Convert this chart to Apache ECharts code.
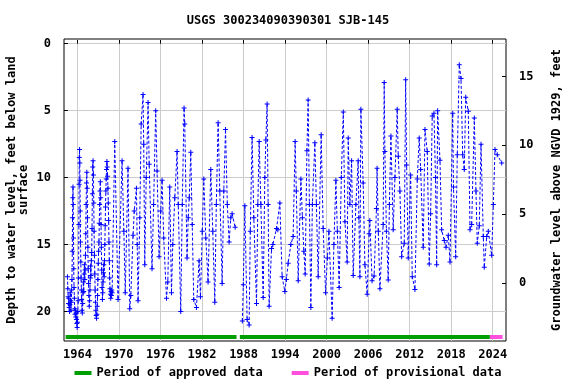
<!DOCTYPE html>
<html><head><meta charset="utf-8">
<script src="https://cdn.jsdelivr.net/npm/echarts@6/dist/echarts.min.js"></script>
<style>html,body{margin:0;padding:0;background:#fff}#c{width:576px;height:384px}</style>
</head><body><div id="c"></div>
<script>
const chartTitle = 'USGS 300234090390301 SJB-145';
const xTicks = [1964, 1970, 1976, 1982, 1988, 1994, 2000, 2006, 2012, 2018, 2024];
const depthTicks = [0, 5, 10, 15, 20];
const elevTicks = [0, 5, 10, 15];
const approvedPeriods = [[1962.29, 1986.98], [1987.46, 2023.59]];
const provisionalPeriods = [[2023.59, 2025.43]];
const periodBarDepth = 21.9;

// [decimal year, depth to water (ft below land surface)]
const waterLevels = [
[1962.55,17.4],[1962.6,18.3],[1962.65,18.9],[1962.7,19.4],[1962.75,19.0],[1962.8,19.7],[1962.85,20.0],[1962.9,19.5],[1962.95,18.6],
[1963.0,19.2],[1963.05,19.9],[1963.1,19.3],[1963.15,18.4],[1963.2,17.6],[1963.25,15.5],[1963.28,13.0],[1963.32,11.5],[1963.35,10.7],
[1963.38,12.0],[1963.42,14.5],[1963.46,16.8],[1963.5,18.2],[1963.55,19.0],[1963.6,19.8],[1963.65,20.2],[1963.7,19.9],[1963.75,20.4],
[1963.8,20.1],[1963.85,20.6],[1963.9,20.9],[1963.95,21.2],[1964.0,20.8],[1964.05,20.0],[1964.1,19.2],[1964.15,17.5],[1964.2,13.5],
[1964.23,10.5],[1964.26,8.5],[1964.3,7.9],[1964.33,8.9],[1964.36,10.2],[1964.4,12.5],[1964.44,14.8],[1964.48,16.3],[1964.52,17.5],
[1964.56,18.4],[1964.6,19.1],[1964.65,19.9],[1964.7,20.1],[1964.75,19.4],[1964.8,18.6],[1964.85,17.8],[1964.9,18.5],[1964.95,17.2],
[1965.0,16.5],[1965.05,17.6],[1965.1,16.9],[1965.15,15.8],[1965.2,14.2],[1965.25,12.0],[1965.3,10.4],[1965.35,9.6],[1965.4,10.8],
[1965.45,13.0],[1965.5,15.2],[1965.55,16.8],[1965.6,17.9],[1965.65,18.8],[1965.7,19.6],[1965.75,19.2],[1965.8,18.4],[1965.85,17.5],
[1965.9,16.6],[1965.95,17.3],[1966.0,16.2],[1966.05,15.6],[1966.1,13.8],[1966.15,11.2],[1966.2,9.2],[1966.25,8.75],[1966.3,9.8],
[1966.35,11.9],[1966.4,14.0],[1966.45,15.8],[1966.5,17.2],[1966.55,18.4],[1966.6,19.3],[1966.65,19.9],[1966.7,20.3],[1966.75,20.5],
[1966.8,20.2],[1966.85,19.6],[1966.9,18.8],[1966.95,17.6],[1967.0,16.4],[1967.05,15.5],[1967.1,14.8],[1967.15,13.4],[1967.2,12.0],
[1967.25,11.0],[1967.3,10.3],[1967.35,11.5],[1967.4,13.5],[1967.45,15.2],[1967.5,16.9],[1967.55,18.2],[1967.6,19.1],[1967.65,18.6],
[1967.7,17.8],[1967.75,17.1],[1967.8,16.5],[1967.85,17.4],[1967.9,16.2],[1967.95,15.0],[1968.0,13.6],[1968.05,12.2],[1968.1,11.0],
[1968.15,10.1],[1968.2,9.4],[1968.25,8.8],[1968.3,9.2],[1968.35,9.9],[1968.4,10.8],[1968.45,11.9],[1968.5,13.2],[1968.55,14.8],
[1968.6,16.2],[1968.65,17.5],[1968.7,18.3],[1968.75,18.7],[1968.8,19.0],[1968.85,18.5],[1968.9,18.8],[1968.95,18.4],[1969.0,18.6],
[1969.38,7.3],[1969.86,19.1],[1970.44,8.75],[1970.7,14.0],[1970.9,18.6],[1971.3,9.3],[1971.55,19.8],[1971.7,18.8],[1972.03,14.3],
[1972.2,12.5],[1972.52,10.8],[1972.63,15.0],[1972.75,19.2],[1973.0,13.0],[1973.2,6.0],[1973.47,3.8],[1973.57,7.5],[1973.72,16.5],
[1973.93,10.0],[1974.2,4.4],[1974.36,9.0],[1974.77,16.8],[1975.0,12.0],[1975.3,5.0],[1975.5,9.5],[1975.79,15.9],[1976.03,12.5],
[1976.22,10.2],[1976.46,14.5],[1976.86,19.0],[1977.05,17.8],[1977.33,10.7],[1977.58,18.6],[1977.77,15.0],[1978.06,11.5],[1978.39,8.05],
[1978.56,12.0],[1978.92,20.0],[1979.14,12.0],[1979.4,4.8],[1979.5,6.0],[1979.83,16.0],[1980.0,13.0],[1980.15,11.5],[1980.37,8.1],
[1980.58,13.5],[1980.8,19.1],[1981.19,19.7],[1981.57,16.2],[1981.77,18.9],[1982.03,14.0],[1982.25,10.1],[1982.54,14.5],[1982.87,17.8],
[1983.26,9.4],[1983.55,14.0],[1983.84,19.3],[1984.06,12.0],[1984.32,5.9],[1984.56,11.0],[1984.9,17.9],[1985.14,11.0],[1985.39,6.4],
[1985.65,12.0],[1985.91,14.8],[1986.15,13.0],[1986.34,12.7],[1986.78,13.7],
[1987.3,null],
[1987.82,20.7],[1987.96,18.0],[1988.18,12.1],[1988.51,20.6],[1988.8,21.0],[1988.97,14.0],[1989.23,7.0],[1989.48,13.0],[1989.87,19.4],
[1990.06,12.0],[1990.25,7.3],[1990.5,12.0],[1990.83,18.95],[1991.07,10.0],[1991.22,7.2],[1991.4,4.5],[1991.55,12.0],[1991.69,19.6],
[1992.04,15.3],[1992.23,15.0],[1992.76,13.8],[1992.95,13.9],[1993.24,11.9],[1993.57,17.4],[1993.96,18.5],[1994.18,17.6],[1994.44,16.4],
[1994.83,15.0],[1995.16,14.4],[1995.45,7.3],[1995.62,11.0],[1995.89,17.7],[1996.28,10.1],[1996.5,13.0],[1996.71,15.5],[1996.9,17.2],
[1997.15,8.0],[1997.33,4.2],[1997.51,12.0],[1997.72,19.7],[1997.94,12.0],[1998.3,7.4],[1998.52,12.0],[1998.78,17.4],[1999.21,6.8],
[1999.5,13.8],[1999.85,18.6],[2000.11,16.0],[2000.33,14.0],[2000.8,20.5],[2001.05,15.0],[2001.34,10.2],[2001.55,14.0],[2001.81,18.2],
[2002.12,10.0],[2002.41,5.1],[2002.65,13.3],[2002.97,16.3],[2003.12,7.05],[2003.36,12.0],[2003.61,8.75],[2003.84,17.3],[2004.23,12.0],
[2004.56,8.75],[2004.66,13.0],[2004.81,17.4],[2004.95,4.9],[2005.28,10.4],[2005.53,16.5],[2005.86,18.7],[2006.14,14.2],[2006.24,13.2],
[2006.57,17.7],[2006.86,17.35],[2007.2,12.3],[2007.29,9.3],[2007.47,14.0],[2007.7,18.3],[2008.17,13.5],[2008.32,2.9],[2008.42,8.05],
[2008.64,14.0],[2008.9,17.65],[2009.07,12.0],[2009.29,6.9],[2009.62,13.9],[2009.87,10.0],[2010.2,4.9],[2010.35,8.4],[2010.59,11.0],
[2010.84,15.9],[2011.22,14.9],[2011.42,2.7],[2011.56,9.05],[2011.79,16.0],[2012.14,9.8],[2012.37,17.4],[2012.76,18.35],[2013.1,10.1],
[2013.38,7.05],[2013.59,9.4],[2013.96,15.2],[2014.21,6.4],[2014.54,8.05],[2014.83,16.45],[2015.03,12.7],[2015.26,5.4],[2015.51,5.2],
[2015.73,10.0],[2015.9,16.5],[2016.04,5.0],[2016.38,8.7],[2016.62,13.9],[2017.0,14.7],[2017.25,15.2],[2017.58,14.3],[2017.83,16.3],
[2018.22,5.2],[2018.33,10.7],[2018.65,15.9],[2018.88,8.3],[2019.17,1.57],[2019.42,2.6],[2019.66,8.3],[2019.89,9.4],[2020.1,4.0],
[2020.47,5.05],[2020.72,13.9],[2020.96,13.5],[2021.34,5.55],[2021.58,11.0],[2021.77,14.9],[2022.06,13.6],[2022.31,7.5],[2022.64,14.4],
[2022.78,16.7],[2023.13,14.4],[2023.36,14.0],[2023.85,15.8],[2024.09,12.0],[2024.33,7.9],[2024.66,8.3],[2025.3,8.9]
];

function periodData(periods) {
  const out = [];
  periods.forEach((p, i) => {
    if (i > 0) out.push([(periods[i-1][1] + p[0]) / 2, null]);
    out.push([p[0], periodBarDepth], [p[1], periodBarDepth]);
  });
  return out;
}

const FONT = 'DejaVu Sans Mono';
const txt = {fontFamily: FONT, fontWeight: 'bold', fontSize: 12, color: '#000'};
const plus = 'path://M4,0 H6 V4 H10 V6 H6 V10 H4 V6 H0 V4 H4 Z';

const chart = echarts.init(document.getElementById('c'), null, {renderer: 'canvas'});
chart.setOption({
  animation: false,
  backgroundColor: '#fff',
  title: {text: chartTitle, left: 'center', top: 10, textStyle: Object.assign({}, txt)},
  legend: {
    top: 362, left: 'center', itemGap: 29, itemWidth: 17, itemHeight: 4, icon: 'rect',
    textStyle: Object.assign({}, txt),
    data: ['Period of approved data', 'Period of provisional data']
  },
  grid: {left: 64, right: 70, top: 39, bottom: 43, show: true, borderColor: '#000', borderWidth: 1, containLabel: false, outerBoundsMode: 'none'},
  xAxis: {
    type: 'value', min: 1962.05, max: 2025.92,
    axisLine: {show: false},
    axisTick: {show: true, inside: true, length: 4, lineStyle: {color: '#000'}, customValues: xTicks},
    axisLabel: Object.assign({margin: 8, customValues: xTicks, formatter: v => String(v)}, txt),
    splitLine: {show: true, lineStyle: {color: '#cccccc', width: 1}}
  },
  yAxis: [{
    type: 'value', inverse: true, min: -0.35, max: 22.2,
    name: 'Depth to water level, feet below land\nsurface',
    nameLocation: 'middle', nameRotate: 90, nameGap: 34, nameMoveOverlap: false,
    nameTextStyle: Object.assign({lineHeight: 12}, txt),
    axisLine: {show: false},
    axisTick: {show: true, inside: true, length: 4, lineStyle: {color: '#000'}, customValues: depthTicks},
    axisLabel: Object.assign({margin: 13, customValues: depthTicks}, txt),
    splitLine: {show: true, lineStyle: {color: '#cccccc', width: 1}}
  }, {
    type: 'value', position: 'right', min: -4.22, max: 17.73,
    name: 'Groundwater level above NGVD 1929, feet',
    nameLocation: 'middle', nameRotate: 90, nameGap: 45, nameMoveOverlap: false,
    nameTextStyle: Object.assign({}, txt),
    axisLine: {show: false},
    axisTick: {show: true, inside: true, length: 4, lineStyle: {color: '#000'}, customValues: elevTicks},
    axisLabel: Object.assign({margin: 13, customValues: elevTicks}, txt),
    splitLine: {show: false}
  }],
  series: [{
    type: 'line', name: 'Water level', yAxisIndex: 0, data: waterLevels,
    symbol: plus, symbolSize: 5, showAllSymbol: true, connectNulls: false,
    itemStyle: {color: '#0000ff'},
    lineStyle: {color: '#0000ff', width: 1, type: [3, 2]},
    emphasis: {disabled: true}
  }, {
    type: 'line', name: 'Period of approved data', yAxisIndex: 0, data: periodData(approvedPeriods),
    showSymbol: false, symbol: 'none', connectNulls: false,
    itemStyle: {color: '#009e00'}, lineStyle: {color: '#009e00', width: 4, cap: 'butt'}
  }, {
    type: 'line', name: 'Period of provisional data', yAxisIndex: 0, data: periodData(provisionalPeriods),
    showSymbol: false, symbol: 'none',
    itemStyle: {color: '#ff4fdc'}, lineStyle: {color: '#ff4fdc', width: 4, cap: 'butt'}
  }]
});
</script></body></html>
